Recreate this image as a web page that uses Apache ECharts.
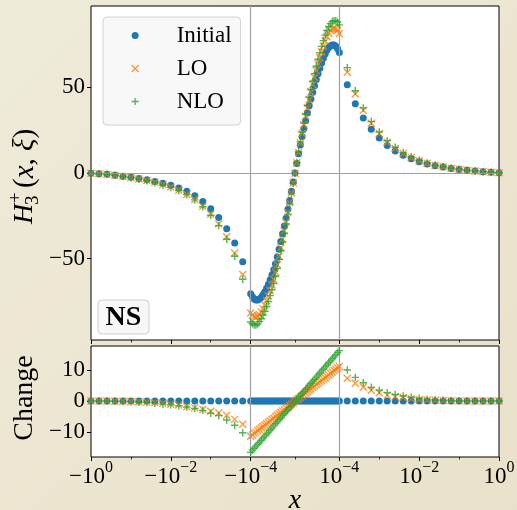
<!DOCTYPE html>
<html><head><meta charset="utf-8">
<script src="https://cdn.jsdelivr.net/npm/echarts@6/dist/echarts.min.js"></script>
<style>html,body{margin:0;padding:0;background:#ece7d5;}#c{width:517px;height:510px;}</style>
</head><body><div id="c"></div>
<script>
// ---------- data ----------
const xLeft = [-1, -0.631, -0.398, -0.251, -0.158, -0.1, -0.0631, -0.0398, -0.0251, -0.0158, -0.01, -0.00631, -0.00398, -0.00251, -0.00158, -0.001, -0.000631, -0.000398, -0.000251, -0.000158];
const xMidE4 = [-1.00,-0.96,-0.92,-0.88,-0.84,-0.80,-0.76,-0.72,-0.68,-0.64,-0.60,-0.56,-0.52,-0.48,-0.44,-0.40,-0.36,-0.32,-0.28,-0.24,-0.20,-0.16,-0.12,-0.08,-0.04,0,0.04,0.08,0.12,0.16,0.20,0.24,0.28,0.32,0.36,0.40,0.44,0.48,0.52,0.56,0.60,0.64,0.68,0.72,0.76,0.80,0.84,0.88,0.92,0.96,1.00];
const xRight = [0.000158, 0.000251, 0.000398, 0.000631, 0.001, 0.00158, 0.00251, 0.00398, 0.00631, 0.01, 0.0158, 0.0251, 0.0398, 0.0631, 0.1, 0.158, 0.251, 0.398, 0.631, 1];

const initLeft = [-0.1,-0.4,-0.8,-1.3,-1.9,-2.5,-3.2,-4.0,-4.9,-6.0,-7.2,-8.8,-10.7,-13.3,-16.7,-20.8,-26.0,-32.6,-40.8,-51.8];
const initMid = [-70.5,-72.2,-73.5,-74.2,-74.2,-73.6,-72.5,-71.0,-69.4,-67.3,-65.0,-62.3,-59.5,-56.5,-53.0,-49.0,-44.5,-40.0,-35.5,-31.0,-26.3,-21.2,-16.0,-10.7,-5.3,0.0,5.6,11.2,16.4,21.3,26.0,30.5,35.0,39.2,43.2,47.2,51.0,54.6,58.0,61.2,64.2,67.0,69.5,71.6,73.2,74.3,74.8,74.7,74.0,72.6,70.3];
const initRight = [51.5,40.4,32.1,25.6,20.4,16.1,12.9,10.3,8.3,6.6,5.3,4.2,3.5,2.7,2.1,1.6,1.2,0.8,0.5,0.2];

const changeLOLeft = [0,0,0,-0.05,-0.1,-0.15,-0.25,-0.35,-0.5,-0.75,-1.0,-1.3,-1.8,-2.2,-2.7,-3.3,-3.8,-4.6,-5.9,-7.5];
const changeLOMid = [-11.3,-10.9,-10.4,-10.0,-9.5,-9.1,-8.6,-8.2,-7.7,-7.3,-6.8,-6.4,-5.9,-5.5,-5.0,-4.6,-4.1,-3.7,-3.2,-2.8,-2.3,-1.9,-1.4,-1.0,-0.6,-0.1,0.4,0.8,1.2,1.7,2.1,2.6,3.0,3.5,3.9,4.4,4.8,5.3,5.7,6.2,6.6,7.1,7.5,8.0,8.4,8.9,9.3,9.8,10.2,10.7,11.1];
const changeLORight = [7.3,5.7,4.5,3.5,2.7,1.9,1.4,1.1,0.75,0.5,0.35,0.25,0.15,0.1,0.05,0.03,0,0,0,0];

const changeNLOLeft = [0,0,0,-0.05,-0.15,-0.25,-0.4,-0.5,-0.75,-1.0,-1.2,-1.5,-1.9,-2.4,-3.0,-3.9,-4.7,-6.1,-7.8,-10.2];
const changeNLOMid = [-16.5,-15.8,-15.2,-14.5,-13.9,-13.2,-12.6,-11.9,-11.3,-10.6,-10.0,-9.3,-8.7,-8.0,-7.3,-6.7,-6.0,-5.4,-4.7,-4.1,-3.4,-2.8,-2.1,-1.5,-0.8,-0.2,0.5,1.2,1.8,2.5,3.1,3.8,4.4,5.1,5.7,6.4,7.0,7.7,8.4,9.0,9.7,10.3,11.0,11.6,12.3,12.9,13.6,14.2,14.9,15.6,16.2];
const changeNLORight = [10.0,7.6,5.9,4.4,3.5,2.7,2.1,1.6,1.2,0.9,0.6,0.4,0.3,0.2,0.1,0.05,0.03,0,0,0];

const seriesNames = ['Initial', 'LO', 'NLO'];
const xTickVals = [-1, -1e-2, -1e-4, 1e-4, 1e-2, 1];
const xTickBase = ['\u221210', '\u221210', '\u221210', '10', '10', '10'];
const xTickExp = ['0', '\u22122', '\u22124', '\u22124', '\u22122', '0'];
const xMinorVals = [-1e-1, -1e-3, 0, 1e-3, 1e-1];
const yTopTicks = [-50, 0, 50];
const yBotTicks = [-10, 0, 10];

// ---------- symlog scale (linthresh 1e-4, linscale 1) ----------
const LINTHRESH = 1e-4;
const LINSCALE = 1 / (1 - 1 / 10);
function symlog(x) {
  const a = Math.abs(x);
  if (a <= LINTHRESH) return x / LINTHRESH * LINSCALE;
  return Math.sign(x) * (LINSCALE + Math.log10(a / LINTHRESH));
}
const T_MAX = symlog(1);

const xs = xLeft.concat(xMidE4.map(v => v * 1e-4), xRight);
const init = initLeft.concat(initMid, initRight);
const chLO = changeLOLeft.concat(changeLOMid, changeLORight);
const chNLO = changeNLOLeft.concat(changeNLOMid, changeNLORight);
const lo = init.map((v, i) => v + chLO[i]);
const nlo = init.map((v, i) => v + chNLO[i]);
const chInit = init.map(v => v - v);

const FONT = '"Liberation Serif", "Times New Roman", serif';
const COLORS = ['#1f77b4', '#ff7f0e', '#2ca02c'];
const X_PATH = 'path://M0,0L10,10M10,0L0,10';
const PLUS_PATH = 'path://M5,0L5,10M0,5L10,5';

const xMajorT = xTickVals.map(symlog);
const xMinorT = xMinorVals.map(symlog);

function fmtX(value) {
  for (let i = 0; i < xMajorT.length; i++) {
    if (Math.abs(xMajorT[i] - value) < 1e-6) return '{b|' + xTickBase[i] + '}{s|' + xTickExp[i] + '}';
  }
  return '';
}
function mkXMajor(gi, labels) {
  return {
    type: 'value', gridIndex: gi, position: 'bottom', min: -T_MAX, max: T_MAX,
    axisLine: { show: false, onZero: false }, splitLine: { show: false },
    axisTick: { show: true, customValues: xMajorT, length: 4, lineStyle: { color: '#000', width: 1 } },
    axisLabel: {
      show: labels, customValues: xMajorT, margin: 3, formatter: fmtX,
      rich: {
        b: { fontFamily: FONT, fontSize: 23, color: '#000', lineHeight: 34 },
        s: { fontFamily: FONT, fontSize: 16, color: '#000', verticalAlign: 'top', lineHeight: 18 }
      }
    }
  };
}
function mkXMinor(gi) {
  return {
    type: 'value', gridIndex: gi, position: 'bottom', offset: 0, min: -T_MAX, max: T_MAX,
    axisLine: { show: false, onZero: false }, splitLine: { show: false },
    axisTick: { show: true, customValues: xMinorT, length: 2.5, lineStyle: { color: '#000', width: 0.8 } },
    axisLabel: { show: false }
  };
}
function mkY(gi, mn, mx, ticks) {
  return {
    type: 'value', gridIndex: gi, position: 'left', min: mn, max: mx,
    axisLine: { show: false, onZero: false }, splitLine: { show: false },
    axisTick: { show: true, customValues: ticks, length: 4, lineStyle: { color: '#000', width: 1 } },
    axisLabel: {
      customValues: ticks, margin: 6, fontFamily: FONT, fontSize: 23, color: '#000',
      formatter: v => String(v).replace('-', '\u2212')
    }
  };
}
function pts(ys) { return xs.map((x, i) => [symlog(x), ys[i]]); }

const markerStyles = [
  { symbol: 'circle', symbolSize: 7, itemStyle: { color: COLORS[0], opacity: 1 } },
  { symbol: X_PATH, symbolSize: 7, itemStyle: { color: 'rgba(0,0,0,0)', borderColor: COLORS[1], borderWidth: 1.4 } },
  { symbol: PLUS_PATH, symbolSize: 7.5, itemStyle: { color: 'rgba(0,0,0,0)', borderColor: COLORS[2], borderWidth: 1.4 } }
];

const refLine = { color: '#a0a0a0', width: 1.2, type: 'solid' };
const series = [];
series.push({
  type: 'scatter', xAxisIndex: 0, yAxisIndex: 0, data: [], z: 1, silent: true,
  markLine: { symbol: 'none', silent: true, animation: false, label: { show: false }, lineStyle: refLine,
    data: [{ xAxis: symlog(-1e-4) }, { xAxis: symlog(1e-4) }, { yAxis: 0 }] }
});
[init, lo, nlo].forEach((ys, k) => {
  series.push(Object.assign({ type: 'scatter', name: seriesNames[k], xAxisIndex: 0, yAxisIndex: 0, data: pts(ys), z: 3 + k, animation: false }, markerStyles[k]));
});
series.push({
  type: 'scatter', xAxisIndex: 2, yAxisIndex: 1, data: [], z: 1, silent: true,
  markLine: { symbol: 'none', silent: true, animation: false, label: { show: false }, lineStyle: refLine,
    data: [{ xAxis: symlog(-1e-4) }, { xAxis: symlog(1e-4) }] }
});
[chInit, chLO, chNLO].forEach((ys, k) => {
  series.push(Object.assign({ type: 'scatter', name: seriesNames[k], xAxisIndex: 2, yAxisIndex: 1, data: pts(ys), z: 3 + k, animation: false }, markerStyles[k]));
});

const chart = echarts.init(document.getElementById('c'), null, { renderer: 'canvas' });
chart.setOption({
  animation: false,
  backgroundColor: { type: 'linear', x: 0, y: 0, x2: 1, y2: 1, colorStops: [{ offset: 0, color: '#efebda' }, { offset: 1, color: '#e9e1c9' }] },
  grid: [
    { left: 91, right: 18, top: 6, height: 334, show: true, backgroundColor: '#fff', borderColor: '#000', borderWidth: 1, outerBoundsMode: 'none', containLabel: false },
    { left: 91, right: 18, top: 346, height: 111, show: true, backgroundColor: '#fff', borderColor: '#000', borderWidth: 1, outerBoundsMode: 'none', containLabel: false }
  ],
  xAxis: [mkXMajor(0, false), mkXMinor(0), mkXMajor(1, true), mkXMinor(1)],
  yAxis: [mkY(0, -97.5, 97.5, yTopTicks), mkY(1, -18, 17.7, yBotTicks)],
  legend: {
    orient: 'vertical', left: 103, top: 17, selectedMode: false,
    padding: [7, 9, 12, 28], itemGap: 10, itemWidth: 7, itemHeight: 7,
    backgroundColor: '#f8f8f8', borderColor: '#d2d2d2', borderWidth: 1, borderRadius: 4,
    textStyle: { fontFamily: FONT, fontSize: 23, color: '#000', lineHeight: 22, padding: [0, 0, 0, 33] },
    data: [
      { name: 'Initial', icon: 'circle', itemStyle: { color: COLORS[0] } },
      { name: 'LO', icon: X_PATH, itemStyle: { color: 'rgba(0,0,0,0)', borderColor: COLORS[1], borderWidth: 1.3 } },
      { name: 'NLO', icon: PLUS_PATH, itemStyle: { color: 'rgba(0,0,0,0)', borderColor: COLORS[2], borderWidth: 1.3 } }
    ]
  },
  graphic: [
    { type: 'group', x: 25, y: 172, rotation: Math.PI / 2, children: [
      { type: 'text', x: -52, y: 0, style: { text: 'H', fontFamily: FONT, fontStyle: 'italic', fontSize: 28, fill: '#000', align: 'left', verticalAlign: 'middle' } },
      { type: 'text', x: -31, y: -9, style: { text: '+', fontFamily: FONT, fontSize: 19, fill: '#000', align: 'left', verticalAlign: 'middle' } },
      { type: 'text', x: -33, y: 8, style: { text: '3', fontFamily: FONT, fontSize: 19, fill: '#000', align: 'left', verticalAlign: 'middle' } },
      { type: 'text', x: -16, y: 0, style: { text: '({i|x}, {i|\u03be})', fontFamily: FONT, fontSize: 29, fill: '#000', align: 'left', verticalAlign: 'middle',
        rich: { i: { fontFamily: FONT, fontStyle: 'italic', fontSize: 29, fill: '#000' } } } }
    ] },
    { type: 'text', x: 25, y: 398, rotation: Math.PI / 2, style: { text: 'Change', fontFamily: FONT, fontSize: 28, fill: '#000', align: 'center', verticalAlign: 'middle' } },
    { type: 'text', x: 295, y: 501, style: { text: 'x', fontFamily: FONT, fontStyle: 'italic', fontSize: 28, fill: '#000', align: 'center', verticalAlign: 'middle' } },
    { type: 'rect', x: 98, y: 300, shape: { width: 51, height: 34, r: 4 }, style: { fill: '#f8f8f8', stroke: '#cfcfcf', lineWidth: 1 }, z: 10 },
    { type: 'text', x: 123.5, y: 318, z: 11, style: { text: 'NS', fontFamily: FONT, fontWeight: 'bold', fontSize: 28, fill: '#000', align: 'center', verticalAlign: 'middle' } }
  ],
  series: series
});
</script>
</body></html>
